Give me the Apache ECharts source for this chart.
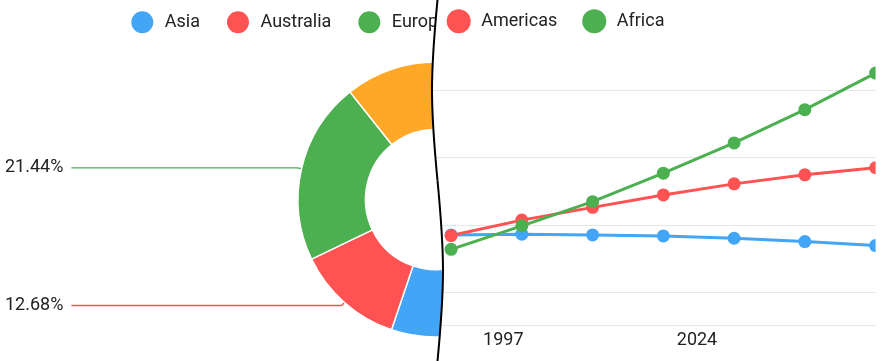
<!DOCTYPE html>
<html>
<head>
<meta charset="utf-8">
<script src="https://cdn.jsdelivr.net/npm/echarts@6/dist/echarts.min.js"></script>
<style>
html, body { margin: 0; padding: 0; background: #fff; }
#wrap { position: relative; width: 886px; height: 361px; overflow: hidden; }
.layer { position: absolute; left: 0; top: 0; width: 886px; height: 361px; }
#pie { clip-path: path('M0 0 L437.5 0 C430.17 76.6 430.17 103.9 437.5 180.5 C444.83 257.1 444.83 284.4 437.5 361 L0 361 Z'); }
#line { clip-path: path('M437.5 0 C430.17 76.6 430.17 103.9 437.5 180.5 C444.83 257.1 444.83 284.4 437.5 361 L875.6 361 L875.6 0 Z'); }
#divider { pointer-events: none; }
</style>
</head>
<body>
<div id="wrap">
  <div id="pie" class="layer"></div>
  <div id="line" class="layer"></div>
  <div id="divider" class="layer"></div>
</div>
<script>
// ---- Pie data ----
const pieNames = ['Asia', 'Australia', 'Europe', 'Others'];
const pieValues = [42.69, 12.68, 21.44, 23.19];
const pieColors = ['#42A5F5', '#FF5252', '#4CAF50', '#FFA726'];

// ---- Line data ----
const years = [1990, 2000, 2010, 2020, 2030, 2040, 2050];
const lineNames = ['Asia', 'Americas', 'Africa'];
const asiaValues = [37.0, 37.2, 37.0, 36.7, 36.0, 35.0, 33.8];
const americasValues = [36.8, 41.4, 45.2, 48.9, 52.2, 54.9, 57.0];
const africaValues = [32.7, 39.7, 46.9, 55.4, 64.4, 74.3, 85.2];
const lineColors = ['#42A5F5', '#FF5252', '#4CAF50'];
const lineLegend = ['Americas', 'Africa'];

const FONT = 'Roboto';
const DAY = 86400000;
const dayOf = y => Date.UTC(y, 0, 1) / DAY;

const legendBase = {
  top: 9.3, padding: 0, icon: 'circle', itemWidth: 24, itemHeight: 24, itemGap: 25,
  textStyle: { fontSize: 18, color: '#222', fontFamily: FONT, padding: [0, 0, 0, 5.5] }
};

// ---- Pie chart ----
const pieChart = echarts.init(document.getElementById('pie'), null, { renderer: 'canvas' });
pieChart.setOption({
  animation: false,
  color: pieColors,
  textStyle: { fontFamily: FONT },
  legend: Object.assign({}, legendBase, { left: 129.3, data: pieNames }),
  series: [{
    type: 'pie',
    center: [435.5, 199.5],
    radius: [70, 137.5],
    startAngle: 45,
    clockwise: true,
    itemStyle: { borderColor: '#fff', borderWidth: 1.5 },
    label: {
      show: true, formatter: '{d}%', alignTo: 'edge', edgeDistance: 5,
      distanceToLabelLine: 8,
      fontSize: 18, color: '#222', fontFamily: FONT
    },
    labelLine: { length: 4, length2: 20, lineStyle: { width: 1.4 } },
    data: pieNames.map((n, i) => ({ name: n, value: pieValues[i] }))
  }]
});

// ---- Line chart ----
const lineChart = echarts.init(document.getElementById('line'), null, { renderer: 'canvas' });
const seriesValues = [asiaValues, americasValues, africaValues];
lineChart.setOption({
  animation: false,
  color: lineColors,
  textStyle: { fontFamily: FONT },
  legend: Object.assign({}, legendBase, { left: 446.7, data: lineLegend }),
  grid: { left: 309.6, right: 10.4, top: 57, bottom: 35.5 },
  xAxis: {
    type: 'value', min: 0, max: dayOf(2050), interval: 10000,
    splitLine: { show: false }, axisLine: { show: false }, axisTick: { show: false },
    axisLabel: {
      formatter: v => String(new Date(v * DAY).getUTCFullYear()),
      fontSize: 18, color: '#222', fontFamily: FONT, margin: 6,
      showMaxLabel: false
    }
  },
  yAxis: {
    type: 'value', min: 10, max: 90,
    axisLine: { show: false }, axisTick: { show: false }, axisLabel: { show: false },
    splitLine: { show: true, showMaxLine: false, lineStyle: { color: '#e6e6e6', width: 1 } }
  },
  series: lineNames.map((n, i) => ({
    name: n, type: 'line', symbol: 'circle', symbolSize: 13,
    lineStyle: { width: 3 },
    data: years.map((y, j) => [dayOf(y), seriesValues[i][j]])
  }))
});

// ---- Divider ----
const divChart = echarts.init(document.getElementById('divider'), null, { renderer: 'canvas' });
divChart.setOption({
  animation: false,
  graphic: [
    { type: 'bezierCurve', shape: { x1: 437.5, y1: 0, cpx1: 430.17, cpy1: 76.6, cpx2: 430.17, cpy2: 103.9, x2: 437.5, y2: 180.5 }, style: { stroke: '#000', lineWidth: 2, fill: null } },
    { type: 'bezierCurve', shape: { x1: 437.5, y1: 180.5, cpx1: 444.83, cpy1: 257.1, cpx2: 444.83, cpy2: 284.4, x2: 437.5, y2: 361 }, style: { stroke: '#000', lineWidth: 2, fill: null } }
  ]
});
</script>
</body>
</html>
